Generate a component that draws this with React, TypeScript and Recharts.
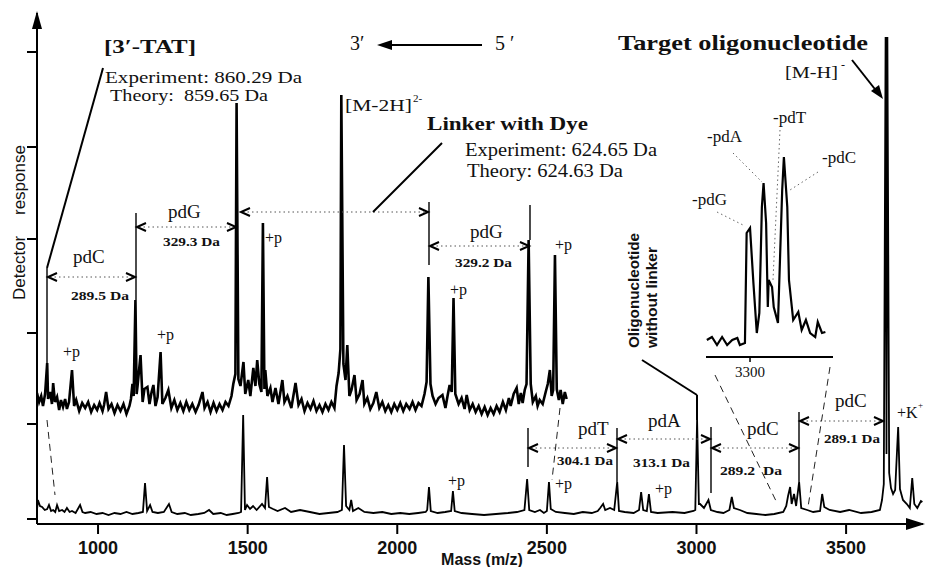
import { ComposedChart, LineChart, Line, XAxis, YAxis } from "recharts";

// main spectrum axes
const X_TICKS = [1000, 1500, 2000, 2500, 3000, 3500];
const Y_TICKS = [5, 100, 191, 285, 377, 472];
const INSET_TICKS = [3300];

// [mass, detector response] pairs
const UPPER_TRACE: [number, number][] = [
  [796, 131], [803, 122], [810, 128], [816, 118], [823, 130], [830, 161], [833, 125], [840, 132], [846, 120], [850, 141],
  [856, 122], [863, 127], [870, 114], [876, 124], [883, 117], [890, 125], [896, 115], [903, 122], [913, 154], [920, 118],
  [927, 124], [937, 113], [947, 121], [957, 116], [967, 122], [977, 112], [987, 119], [997, 114], [1005, 121], [1015, 113],
  [1020, 119], [1027, 132], [1035, 115], [1045, 120], [1055, 111], [1065, 119], [1075, 113], [1085, 120], [1095, 110], [1105, 118],
  [1110, 125], [1115, 140], [1119, 128], [1125, 224], [1129, 130], [1132, 138], [1142, 169], [1149, 122], [1155, 135], [1165, 137],
  [1172, 120], [1179, 132], [1185, 139], [1192, 118], [1199, 127], [1209, 172], [1215, 120], [1225, 126], [1235, 134], [1245, 116],
  [1255, 124], [1265, 114], [1275, 121], [1285, 113], [1295, 122], [1305, 114], [1315, 120], [1326, 112], [1336, 119], [1349, 132],
  [1356, 116], [1366, 122], [1376, 112], [1386, 121], [1396, 113], [1406, 120], [1416, 114], [1426, 122], [1436, 118], [1446, 128],
  [1452, 140], [1459, 150], [1463, 421], [1469, 145], [1476, 138], [1486, 162], [1492, 130], [1502, 144], [1509, 128], [1519, 156],
  [1526, 138], [1532, 164], [1539, 140], [1546, 132], [1551, 301], [1556, 135], [1559, 154], [1566, 128], [1576, 136], [1583, 122],
  [1593, 136], [1603, 120], [1616, 144], [1623, 122], [1633, 128], [1646, 116], [1660, 141], [1670, 119], [1680, 125], [1690, 113],
  [1700, 121], [1710, 115], [1720, 123], [1730, 113], [1740, 119], [1750, 112], [1760, 120], [1770, 114], [1780, 122], [1790, 116],
  [1797, 138], [1804, 151], [1810, 175], [1813, 429], [1820, 160], [1827, 144], [1833, 179], [1840, 128], [1847, 134], [1857, 149],
  [1864, 124], [1874, 130], [1884, 144], [1890, 120], [1900, 126], [1910, 115], [1920, 121], [1930, 132], [1940, 116], [1950, 122],
  [1960, 113], [1970, 119], [1980, 112], [1990, 120], [2000, 114], [2010, 121], [2020, 113], [2030, 120], [2041, 115], [2051, 122],
  [2061, 114], [2071, 121], [2081, 118], [2091, 130], [2098, 142], [2104, 247], [2111, 140], [2118, 128], [2128, 120], [2138, 126],
  [2151, 129], [2161, 116], [2168, 128], [2175, 139], [2182, 132], [2188, 226], [2194, 130], [2205, 120], [2215, 126], [2225, 115],
  [2232, 129], [2242, 114], [2252, 120], [2262, 112], [2272, 118], [2282, 110], [2292, 117], [2302, 109], [2312, 116], [2322, 110],
  [2332, 118], [2342, 112], [2353, 122], [2363, 114], [2373, 126], [2379, 118], [2389, 130], [2399, 136], [2406, 120], [2413, 131],
  [2419, 121], [2426, 134], [2432, 140], [2439, 284], [2446, 140], [2453, 122], [2463, 128], [2469, 118], [2476, 124], [2486, 120],
  [2496, 132], [2503, 140], [2510, 154], [2516, 128], [2521, 134], [2527, 269], [2533, 135], [2540, 124], [2546, 134], [2553, 120],
  [2560, 132], [2566, 125],
];

const LOWER_TRACE: [number, number][] = [
  [796, 14], [799, 24], [806, 18], [813, 17], [822, 14], [830, 15], [836, 19], [843, 13], [850, 14], [857, 12],
  [863, 19], [870, 13], [880, 14], [888, 12], [896, 16], [905, 12], [913, 13], [925, 11], [940, 19], [948, 12],
  [957, 11], [975, 12], [995, 10], [1015, 11], [1035, 9], [1055, 11], [1075, 10], [1095, 12], [1115, 10], [1135, 11],
  [1150, 12], [1157, 41], [1164, 13], [1174, 19], [1182, 12], [1200, 11], [1220, 12], [1237, 20], [1246, 12], [1265, 10],
  [1290, 11], [1310, 9], [1335, 10], [1355, 11], [1371, 14], [1385, 10], [1410, 11], [1430, 9], [1450, 10], [1470, 11],
  [1478, 12], [1485, 109], [1491, 14], [1498, 19], [1508, 15], [1518, 18], [1530, 14], [1548, 20], [1558, 16], [1565, 47],
  [1571, 17], [1585, 15], [1600, 13], [1625, 16], [1645, 12], [1675, 14], [1708, 12], [1740, 10], [1770, 11], [1800, 12],
  [1815, 14], [1822, 79], [1829, 18], [1840, 14], [1846, 24], [1852, 13], [1870, 16], [1890, 12], [1920, 11], [1950, 12],
  [1980, 10], [2010, 11], [2040, 10], [2070, 11], [2095, 12], [2100, 14], [2106, 37], [2112, 13], [2135, 11], [2160, 12],
  [2180, 13], [2186, 33], [2192, 13], [2215, 11], [2250, 10], [2290, 9], [2330, 10], [2370, 11], [2400, 12], [2425, 14],
  [2434, 45], [2441, 14], [2460, 12], [2477, 14], [2490, 11], [2500, 13], [2507, 42], [2513, 15], [2530, 12], [2560, 11],
  [2590, 10], [2620, 12], [2650, 11], [2670, 13], [2678, 16], [2688, 20], [2695, 14], [2711, 16], [2725, 14], [2735, 42],
  [2741, 13], [2760, 12], [2790, 11], [2808, 14], [2815, 32], [2822, 14], [2834, 13], [2841, 30], [2848, 12], [2870, 11],
  [2920, 12], [2960, 11], [2990, 13], [2996, 14], [3002, 104], [3008, 20], [3012, 20], [3025, 16], [3040, 24], [3048, 14],
  [3070, 12], [3090, 11], [3110, 14], [3118, 27], [3125, 16], [3145, 14], [3170, 11], [3200, 10], [3230, 9], [3260, 10],
  [3290, 12], [3300, 18], [3306, 28], [3313, 37], [3318, 20], [3326, 30], [3333, 18], [3343, 42], [3350, 16], [3370, 14],
  [3390, 12], [3413, 13], [3420, 30], [3427, 17], [3445, 14], [3480, 12], [3510, 14], [3550, 11], [3585, 12], [3613, 14],
  [3620, 24], [3626, 40], [3632, 487], [3635, 70], [3638, 487], [3644, 51], [3650, 36], [3657, 30], [3664, 34], [3674, 97],
  [3680, 35], [3690, 24], [3703, 20], [3713, 16], [3721, 46], [3728, 20], [3738, 16], [3750, 23], [3755, 22],
];

// zoomed view around m/z 3300
const INSET_TRACE: [number, number][] = [
  [3249, 17], [3255, 20], [3261, 12], [3267, 20], [3273, 12], [3279, 17], [3285, 19], [3288, 12], [3294, 14], [3296, 124],
  [3300, 129], [3304, 74], [3308, 24], [3311, 44], [3314, 150], [3316, 174], [3319, 134], [3321, 50], [3322, 77], [3326, 70],
  [3328, 50], [3333, 34], [3338, 167], [3340, 200], [3344, 150], [3346, 77], [3351, 37], [3357, 45], [3361, 27], [3366, 37],
  [3371, 24], [3377, 20], [3380, 35], [3385, 24], [3389, 25],
];

const toRows = (pairs: [number, number][]) => pairs.map(([m, v]) => ({ m, v }));

const SERIF = '"Liberation Serif", "Times New Roman", serif';
const SANS = '"Liberation Sans", Arial, sans-serif';

type Note = { x: number; y: number; t: string; s: number; b?: boolean; w?: number };

const NOTES: Note[] = [
  { x: 104, y: 53, t: "[3′-TAT]", s: 19, b: true, w: 92 },
  { x: 105, y: 83, t: "Experiment: 860.29 Da", s: 17, w: 197 },
  { x: 110, y: 101, t: "Theory:  859.65 Da", s: 17, w: 158 },
  { x: 350, y: 50, t: "3′", s: 20 },
  { x: 495, y: 50, t: "5 ′", s: 20 },
  { x: 345, y: 111, t: "[M-2H]", s: 17, w: 67 },
  { x: 413, y: 102, t: "2-", s: 11 },
  { x: 427, y: 130, t: "Linker with Dye", s: 19, b: true, w: 161 },
  { x: 465, y: 156, t: "Experiment: 624.65 Da", s: 18, w: 192 },
  { x: 467, y: 177, t: "Theory: 624.63 Da", s: 18, w: 156 },
  { x: 618, y: 50, t: "Target oligonucleotide", s: 22, b: true, w: 250 },
  { x: 785, y: 78, t: "[M-H]", s: 17, w: 53 },
  { x: 841, y: 69, t: "-", s: 12 },
  { x: 773, y: 123, t: "-pdT", s: 17 },
  { x: 707, y: 142, t: "-pdA", s: 17 },
  { x: 822, y: 163, t: "-pdC", s: 17 },
  { x: 692, y: 205, t: "-pdG", s: 17 },
  { x: 73, y: 263, t: "pdC", s: 19 },
  { x: 71, y: 300, t: "289.5 Da", s: 13, b: true, w: 58 },
  { x: 168, y: 218, t: "pdG", s: 19 },
  { x: 163, y: 246, t: "329.3 Da", s: 13, b: true, w: 57 },
  { x: 470, y: 238, t: "pdG", s: 19 },
  { x: 455, y: 267, t: "329.2 Da", s: 13, b: true, w: 57 },
  { x: 578, y: 435, t: "pdT", s: 19 },
  { x: 557, y: 465, t: "304.1 Da", s: 13, b: true, w: 56 },
  { x: 648, y: 427, t: "pdA", s: 19 },
  { x: 633, y: 467, t: "313.1 Da", s: 13, b: true, w: 57 },
  { x: 747, y: 435, t: "pdC", s: 19 },
  { x: 720, y: 475, t: "289.2  Da", s: 13, b: true, w: 62 },
  { x: 835, y: 407, t: "pdC", s: 19 },
  { x: 824, y: 443, t: "289.1 Da", s: 13, b: true, w: 56 },
  { x: 897, y: 418, t: "+K", s: 16 },
  { x: 918, y: 408, t: "+", s: 9 },
  { x: 63, y: 357, t: "+p", s: 16 },
  { x: 157, y: 340, t: "+p", s: 16 },
  { x: 265, y: 243, t: "+p", s: 16 },
  { x: 450, y: 295, t: "+p", s: 16 },
  { x: 555, y: 250, t: "+p", s: 16 },
  { x: 448, y: 486, t: "+p", s: 16 },
  { x: 555, y: 489, t: "+p", s: 16 },
  { x: 655, y: 494, t: "+p", s: 16 },
];

// dotted double-arrow brackets between fragment peaks: [x1, x2, y]
const BRACKETS = [
  [47, 136, 277], [136, 237, 227], [240, 429, 212], [429, 530, 246],
  [528, 617, 448], [617, 711, 439], [711, 799, 448], [799, 884, 421],
];
// bracket bars: [x, yTop, yBottom]
const BARS = [
  [47, 268, 365], [136, 213, 300], [429, 202, 265], [530, 205, 240],
  [528, 428, 467], [617, 428, 482], [711, 427, 493], [799, 412, 482],
];
const SOLID = [
  [103, 68, 47, 268], [442, 143, 373, 212], [642, 360, 697, 395], [697, 395, 697, 420],
  [380, 45, 482, 45], [852, 60, 878, 93],
];
const DASHED = [
  [715, 375, 777, 503], [830, 367, 808, 507], [47, 420, 55, 495], [560, 408, 552, 480],
];
const DOTTED = [
  [717, 212, 745, 226], [733, 153, 762, 182], [780, 130, 773, 280], [818, 172, 790, 190],
];

const Overlay = () => (
  <svg width={925} height={567} style={{ position: "absolute", left: 0, top: 0, pointerEvents: "none" }}>
    {BRACKETS.map(([a, b, y], i) => (
      <g key={`br-${i}`} stroke="#000" fill="none">
        <line x1={a + 3} y1={y} x2={b - 3} y2={y} stroke="#555" strokeDasharray="1.5 3" />
        <polyline points={`${a + 10},${y - 4} ${a + 1},${y} ${a + 10},${y + 4}`} strokeWidth={2} />
        <polyline points={`${b - 10},${y - 4} ${b - 1},${y} ${b - 10},${y + 4}`} strokeWidth={2} />
      </g>
    ))}
    {BARS.map(([x, y1, y2], i) => (
      <line key={`bar-${i}`} x1={x} y1={y1} x2={x} y2={y2} stroke="#000" strokeWidth={1.4} />
    ))}
    {SOLID.map(([x1, y1, x2, y2], i) => (
      <line key={`s-${i}`} x1={x1} y1={y1} x2={x2} y2={y2} stroke="#000" strokeWidth={2} />
    ))}
    {DASHED.map(([x1, y1, x2, y2], i) => (
      <line key={`d-${i}`} x1={x1} y1={y1} x2={x2} y2={y2} stroke="#222" strokeWidth={1} strokeDasharray="7 5" />
    ))}
    {DOTTED.map(([x1, y1, x2, y2], i) => (
      <line key={`o-${i}`} x1={x1} y1={y1} x2={x2} y2={y2} stroke="#666" strokeWidth={1} strokeDasharray="1.5 3" />
    ))}
    {/* arrow heads */}
    <polygon points="377,45 392,40 392,50" fill="#000" />
    <polygon points="883,99 871,91 879,85" fill="#000" />
    <polygon points="37,11 32,29 42,29" fill="#000" />
    <polygon points="925,524 906,518 906,530" fill="#000" />
    {NOTES.map((n, i) => (
      <text
        key={`n-${i}`}
        x={n.x}
        y={n.y}
        fontFamily={SERIF}
        fontSize={n.s}
        fontWeight={n.b ? 700 : 400}
        fill="#111"
        textLength={n.w}
        lengthAdjust={n.w ? "spacingAndGlyphs" : undefined}
        style={{ whiteSpace: "pre" }}
      >
        {n.t}
      </text>
    ))}
    <text x={639} y={348} transform="rotate(-90 639 348)" fontFamily={SANS} fontSize={14} fontWeight={700} fill="#111" textLength={115} lengthAdjust="spacingAndGlyphs">
      Oligonucleotide
    </text>
    <text x={657} y={348} transform="rotate(-90 657 348)" fontFamily={SANS} fontSize={14} fontWeight={700} fill="#111" textLength={101} lengthAdjust="spacingAndGlyphs">
      without linker
    </text>
    <text x={25} y={300} transform="rotate(-90 25 300)" fontFamily={SANS} fontSize={17} fill="#111">
      Detector
    </text>
    <text x={25} y={215} transform="rotate(-90 25 215)" fontFamily={SANS} fontSize={17} fill="#111">
      response
    </text>
    <text x={482} y={565} textAnchor="middle" fontFamily={SANS} fontSize={16} fontWeight={700} fill="#111">
      Mass (m/z)
    </text>
  </svg>
);

export default function App() {
  return (
    <div style={{ position: "absolute", left: 0, top: 0, width: 925, height: 567, background: "#fff" }}>
      <ComposedChart width={925} height={567} margin={{ top: 13, right: 2, bottom: 0, left: 0 }}>
        <XAxis
          type="number"
          dataKey="m"
          domain={[796, 3757]}
          ticks={X_TICKS}
          allowDataOverflow
          height={43}
          tickSize={10}
          tickMargin={7}
          axisLine={{ stroke: "#000", strokeWidth: 2 }}
          tickLine={{ stroke: "#000", strokeWidth: 2 }}
          tick={{ fontFamily: SANS, fontSize: 18, fontWeight: 700, fill: "#111" }}
        />
        <YAxis
          type="number"
          domain={[0, 511]}
          ticks={Y_TICKS}
          width={37}
          tickSize={10}
          tickFormatter={() => ""}
          axisLine={{ stroke: "#000", strokeWidth: 2 }}
          tickLine={{ stroke: "#000", strokeWidth: 2 }}
        />
        <Line data={toRows(LOWER_TRACE)} dataKey="v" type="linear" dot={false} stroke="#000" strokeWidth={1.8} isAnimationActive={false} />
        <Line data={toRows(UPPER_TRACE)} dataKey="v" type="linear" dot={false} stroke="#000" strokeWidth={2.6} isAnimationActive={false} />
      </ComposedChart>
      <div style={{ position: "absolute", left: 700, top: 140 }}>
        <LineChart width={140} height={250} margin={{ top: 10, right: 7, bottom: 0, left: 6 }}>
          <XAxis
            type="number"
            dataKey="m"
            domain={[3248, 3398]}
            ticks={INSET_TICKS}
            height={33}
            tickSize={5}
            tickMargin={4}
            axisLine={{ stroke: "#000", strokeWidth: 2 }}
            tickLine={{ stroke: "#000", strokeWidth: 1.5 }}
            tick={{ fontFamily: SERIF, fontSize: 15, fill: "#111" }}
          />
          <YAxis hide type="number" domain={[0, 207]} />
          <Line data={toRows(INSET_TRACE)} dataKey="v" type="linear" dot={false} stroke="#000" strokeWidth={2.2} isAnimationActive={false} />
        </LineChart>
      </div>
      <Overlay />
    </div>
  );
}
